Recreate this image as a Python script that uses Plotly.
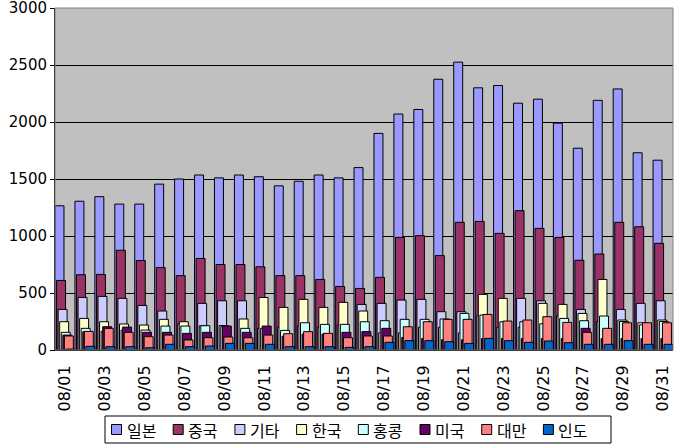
import plotly.graph_objects as go

days = [f"08/{d:02d}" for d in range(1, 32)]
series_names = ["일본", "중국", "기타", "한국", "홍콩", "미국", "대만", "인도"]
japan  = [1265,1305,1345,1280,1280,1455,1500,1535,1510,1535,1520,1440,1480,1535,1510,1600,1900,2070,2110,2375,2525,2300,2320,2165,2200,1990,1770,2190,2290,1730,1665]
china  = [610,660,663,875,785,723,652,803,750,750,730,652,652,619,557,540,637,988,1003,828,1120,1128,1023,1222,1067,988,787,842,1120,1081,936]
other  = [356,461,470,453,391,342,230,409,432,432,190,200,210,200,220,400,409,438,444,336,336,300,200,453,432,300,356,250,356,409,432]
korea  = [248,277,248,228,219,269,248,213,215,272,461,374,444,374,418,342,150,150,200,200,150,488,453,200,409,400,321,619,263,239,263]
hk     = [155,190,165,175,175,210,210,213,205,190,190,172,239,225,225,248,257,269,269,272,321,307,248,248,230,277,257,298,250,220,250]
usa    = [131,160,204,201,155,155,146,155,210,155,210,120,140,140,155,161,190,110,100,90,90,100,100,100,100,100,190,100,100,100,100]
taiwan = [123,163,190,155,117,131,88,108,114,108,131,143,161,146,108,123,123,204,248,269,269,312,254,263,292,242,155,190,239,239,239]
india  = [8,32,29,29,20,50,29,35,58,58,50,29,29,29,23,29,67,82,82,73,58,102,82,67,79,64,50,50,82,50,50]
colors = ["#9999FF", "#993366", "#CCCCFF", "#FFFFCC", "#CCFFFF", "#660066", "#FF8080", "#0066CC"]
y_ticks = [0, 500, 1000, 1500, 2000, 2500, 3000]

data = [japan, china, other, korea, hk, usa, taiwan, india]
xs = list(range(len(days)))
tick_idx = xs[::2]

W, H = 677, 446
ML, MR, MT, MB = 55, 4, 8, 96
PW, PH = W - ML - MR, H - MT - MB

def px(x):
    return (x - ML) / PW

def py(y):
    return (H - MB - y) / PH

fig = go.Figure()
bw = 0.45
shift = (1.0 - bw) / 7
for i, (name, vals, col) in enumerate(zip(series_names, data, colors)):
    fig.add_trace(go.Bar(
        x=xs, y=vals, name=name,
        marker=dict(color=col, line=dict(color="black", width=1)),
        width=bw, offset=-0.5 + i * shift, showlegend=False,
    ))

font_main = "DejaVu Sans, Noto Sans CJK KR, sans-serif"
fig.update_layout(
    width=W, height=H,
    margin=dict(l=ML, r=MR, t=MT, b=MB),
    barmode="overlay",
    paper_bgcolor="white",
    plot_bgcolor="#C0C0C0",
    font=dict(family=font_main, size=15, color="black"),
    showlegend=False,
    xaxis=dict(
        range=[-0.5, 30.5], automargin=False,
        tickmode="array", tickvals=tick_idx, ticktext=[days[i] for i in tick_idx],
        tickangle=-90, showgrid=False, zeroline=False,
        showline=True, linecolor="black", linewidth=1,
        ticks="outside", ticklen=8, tickcolor="white",
        tickfont=dict(size=16), ticklabeloverflow="allow",
    ),
    yaxis=dict(
        range=[0, 3000], tickmode="array", tickvals=y_ticks,
        ticktext=[str(v) for v in y_ticks],
        automargin=False, ticklabeloverflow="allow",
        showgrid=True, gridcolor="black", gridwidth=1, zeroline=False,
        showline=True, linecolor="black", linewidth=1,
        ticks="outside", ticklen=4, tickcolor="black",
        tickfont=dict(size=15),
    ),
)
fig.add_shape(type="rect", xref="paper", yref="paper", x0=0, y0=0, x1=1, y1=1,
              line=dict(color="#808080", width=1), layer="above")

# manual legend (Excel-style)
fig.add_shape(type="rect", xref="paper", yref="paper",
              x0=px(105), x1=px(611), y0=py(443), y1=py(416),
              line=dict(color="black", width=1), fillcolor="white", layer="above")
for i, (name, col) in enumerate(zip(series_names, colors)):
    sx = 111.5 + i * 61.7
    fig.add_shape(type="rect", xref="paper", yref="paper",
                  x0=px(sx), x1=px(sx + 10), y0=py(434.5), y1=py(424.5),
                  line=dict(color="black", width=1), fillcolor=col, layer="above")
    fig.add_annotation(xref="paper", yref="paper", x=px(sx + 13), y=py(429.5),
                       xanchor="left", yanchor="middle", showarrow=False,
                       text=name, font=dict(family="Noto Sans CJK KR, sans-serif", size=16, color="black"))
fig.write_html("out.html")
